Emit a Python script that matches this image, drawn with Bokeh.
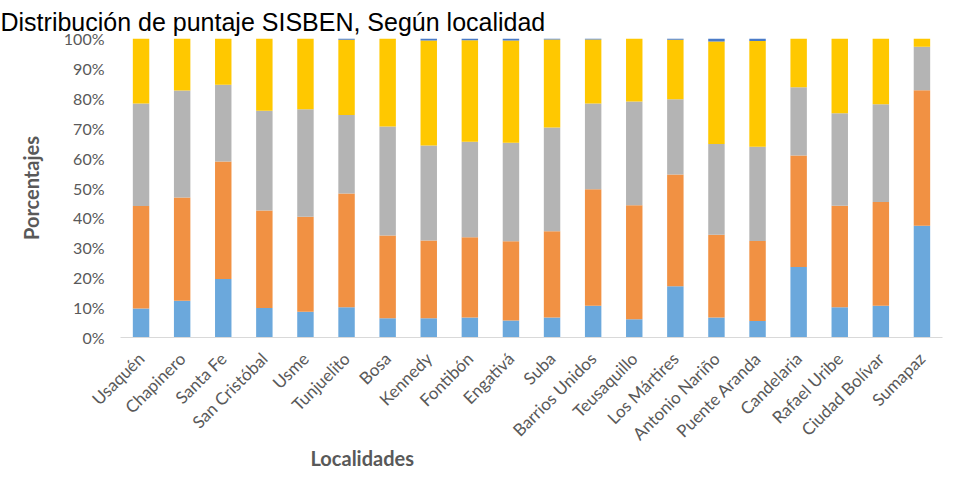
from math import pi
from bokeh.plotting import figure
from bokeh.models import (ColumnDataSource, FactorRange, Range1d, FixedTicker,
                          PrintfTickFormatter, Title)
from bokeh.embed import file_html
from bokeh.resources import INLINE

localidades = ["Usaquén", "Chapinero", "Santa Fe", "San Cristóbal", "Usme",
               "Tunjuelito", "Bosa", "Kennedy", "Fontibón", "Engativá", "Suba",
               "Barrios Unidos", "Teusaquillo", "Los Mártires", "Antonio Nariño",
               "Puente Aranda", "Candelaria", "Rafael Uribe", "Ciudad Bolívar",
               "Sumapaz"]

serie_azul = [9.7, 12.3, 19.6, 9.9, 8.6, 10.1, 6.4, 6.4, 6.7, 5.7, 6.7,
              10.6, 6.1, 17.1, 6.7, 5.5, 23.6, 10.1, 10.6, 37.4]
serie_naranja = [34.3, 34.5, 39.3, 32.6, 31.8, 38.1, 27.7, 26.0, 26.8, 26.5,
                 28.8, 39.0, 38.1, 37.4, 27.7, 26.8, 37.3, 34.0, 34.7, 45.3]
serie_gris = [34.3, 35.8, 25.6, 33.3, 35.9, 26.2, 36.5, 31.8, 32.0, 32.9,
              34.7, 28.7, 34.7, 25.2, 30.3, 31.5, 22.8, 30.9, 32.7, 14.5]
serie_amarilla = [21.7, 17.4, 15.5, 24.2, 23.7, 25.2, 29.4, 35.1, 33.9, 34.2,
                  29.5, 21.4, 21.1, 19.9, 34.3, 35.4, 16.3, 25.0, 22.0, 2.8]
serie_otra = [0.0, 0.0, 0.0, 0.0, 0.0, 0.4, 0.0, 0.7, 0.6, 0.7, 0.3, 0.3,
              0.0, 0.4, 1.0, 0.8, 0.0, 0.0, 0.0, 0.0]

y_ticks = [0, 10, 20, 30, 40, 50, 60, 70, 80, 90, 100]

titulo = "Distribución de puntaje SISBEN, Según localidad"
titulo_x = "Localidades"
titulo_y = "Porcentajes"

source = ColumnDataSource(dict(loc=localidades, s1=serie_azul, s2=serie_naranja,
                               s3=serie_gris, s4=serie_amarilla, s5=serie_otra))

p = figure(width=960, height=484, output_backend="svg", toolbar_location=None,
           x_range=FactorRange(*localidades), y_range=Range1d(0, 100),
           min_border_left=120, min_border_right=18, min_border_top=38,
           min_border_bottom=147)
p.outline_line_color = None
p.xgrid.visible = False
p.ygrid.visible = False

colors = ["#6BA8DC", "#F19143", "#B4B4B4", "#FFC800", "#4A7BC8"]
p.vbar_stack(["s1", "s2", "s3", "s4", "s5"], x="loc", width=0.4, color=colors,
             line_color=None, source=source)

FONT = "Lato"
GRAY = "#595959"

p.yaxis.ticker = FixedTicker(ticks=y_ticks)
p.yaxis.formatter = PrintfTickFormatter(format="%d%%")
p.yaxis.axis_line_color = None
p.yaxis.major_tick_line_color = None
p.yaxis.minor_tick_line_color = None
p.yaxis.major_tick_out = 0
p.yaxis.major_label_standoff = 16
p.yaxis.major_label_text_font = FONT
p.yaxis.major_label_text_font_size = "16px"
p.yaxis.major_label_text_color = GRAY
p.yaxis.axis_label = titulo_y
p.yaxis.axis_label_text_font = FONT
p.yaxis.axis_label_text_font_style = "bold"
p.yaxis.axis_label_text_font_size = "20px"
p.yaxis.axis_label_text_color = GRAY
p.yaxis.axis_label_standoff = 18

p.xaxis.axis_line_color = "#D9D9D9"
p.xaxis.major_tick_line_color = None
p.xaxis.minor_tick_line_color = None
p.xaxis.major_tick_out = 0
p.xaxis.major_label_orientation = pi / 4
p.xaxis.major_label_standoff = 18
p.xaxis.major_label_text_font = FONT
p.xaxis.major_label_text_font_size = "17px"
p.xaxis.major_label_text_color = GRAY

p.title.text = titulo
p.title.align = "left"
p.title.offset = -120
p.title.standoff = 6
p.title.text_font = "Liberation Sans"
p.title.text_font_size = "25px"
p.title.text_font_style = "normal"
p.title.text_color = "#000000"

t_x = Title(text=titulo_x, align="left", offset=190, standoff=-30,
            text_font=FONT, text_font_style="bold", text_font_size="20px",
            text_color=GRAY)
p.add_layout(t_x, "below")

open("out.html", "w").write(file_html(p, INLINE))
